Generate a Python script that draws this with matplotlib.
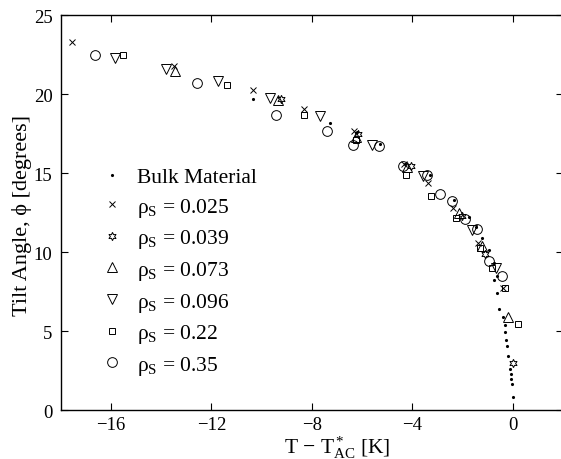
import matplotlib
matplotlib.use("Agg")
import matplotlib.pyplot as plt

plt.rcParams['font.family'] = ['Liberation Serif', 'DejaVu Serif']
plt.rcParams['mathtext.fontset'] = 'custom'
plt.rcParams['mathtext.rm'] = 'Liberation Serif'
plt.rcParams['mathtext.it'] = 'Liberation Serif:italic'

# bulk material (small dots)
bulk_x = [-10.36, -7.28, -6.2, -5.3, -4.3, -3.3, -2.35, -1.75, -1.45, -1.2, -0.95,
          -0.75, -0.72, -0.6, -0.6, -0.52, -0.36, -0.3, -0.28, -0.24, -0.2, -0.16,
          -0.12, -0.08, -0.06, -0.04, 0.0]
bulk_y = [19.7, 18.2, 17.6, 16.85, 15.6, 14.9, 13.3, 12.2, 11.6, 10.9, 10.1,
          9.3, 8.2, 8.5, 7.4, 6.4, 5.9, 5.4, 4.94, 4.43, 4.05, 3.42,
          2.6, 2.3, 1.96, 1.65, 0.82]

# rho_S = 0.025
x025 = [-17.56, -13.48, -10.36, -8.32, -6.32, -4.32, -3.36, -2.36, -1.36, -0.36]
y025 = [23.3, 21.8, 20.25, 19.05, 17.66, 15.6, 14.37, 12.8, 10.6, 7.75]

# rho_S = 0.039
x039 = [-9.24, -6.16, -4.04, -2.0, -1.08, 0.0]
y039 = [19.7, 17.5, 15.45, 12.3, 9.9, 2.97]

# rho_S = 0.073
x073 = [-13.44, -9.36, -6.24, -4.2, -2.12, -1.2, -0.16]
y073 = [21.45, 19.65, 17.3, 15.4, 12.5, 10.4, 5.9]

# rho_S = 0.096
x096 = [-15.84, -13.8, -11.76, -9.68, -7.68, -5.6, -3.56, -1.6, -0.64]
y096 = [22.3, 21.6, 20.8, 19.75, 18.6, 16.77, 14.8, 11.4, 9.0]

# rho_S = 0.22
x22 = [-15.52, -11.4, -8.32, -6.24, -4.24, -3.24, -2.24, -1.28, -0.8, -0.28, 0.2]
y22 = [22.47, 20.57, 18.67, 17.1, 14.87, 13.55, 12.15, 10.25, 9.0, 7.7, 5.45]

# rho_S = 0.35
x35 = [-16.64, -12.56, -9.44, -7.4, -6.36, -5.32, -4.36, -3.4, -2.88, -2.4, -1.9,
       -1.4, -0.92, -0.4]
y35 = [22.47, 20.7, 18.67, 17.66, 16.77, 16.7, 15.44, 14.87, 13.7, 13.2, 12.1,
       11.45, 9.43, 8.48]

xticks = [-16, -12, -8, -4, 0]
yticks = [0, 5, 10, 15, 20, 25]

fig = plt.figure(figsize=(5.61, 4.6), dpi=100)
ax = fig.add_axes([0.1087, 0.1065, 0.8943, 0.8585])

open_style = dict(linestyle='none', markerfacecolor='none', markeredgecolor='k',
                  markeredgewidth=0.7)
ax.plot(bulk_x, bulk_y, linestyle='none', marker='.', color='k', markersize=2.5,
        label='Bulk Material')
ax.plot(x025, y025, marker='x', markersize=4.5, label=r'ρ$_\mathrm{S}$ = 0.025', **open_style)
ax.plot(x039, y039, marker=(6, 1, 0), markersize=6, label=r'ρ$_\mathrm{S}$ = 0.039', **open_style)
ax.plot(x073, y073, marker='^', markersize=7, label=r'ρ$_\mathrm{S}$ = 0.073', **open_style)
ax.plot(x096, y096, marker='v', markersize=7, label=r'ρ$_\mathrm{S}$ = 0.096', **open_style)
ax.plot(x22, y22, marker='s', markersize=5, label=r'ρ$_\mathrm{S}$ = 0.22', **open_style)
ax.plot(x35, y35, marker='o', markersize=7, label=r'ρ$_\mathrm{S}$ = 0.35', **open_style)

ax.set_xlim(-18, 2)
ax.set_ylim(0, 25)
ax.set_xticks(xticks)
ax.set_xticklabels(['\u2212%d' % -t if t < 0 else str(t) for t in xticks])
ax.set_yticks(yticks)
ax.tick_params(direction='in', top=True, right=True, length=5, width=0.8,
               labelsize=13.5, pad=6)
ax.tick_params(axis='x', pad=4.5)
for s in ax.spines.values():
    s.set_linewidth(1.0)

ax.set_xlabel(r'T $-$ T$^*_\mathrm{AC}$ [K]', fontsize=15.5)
ax.xaxis.set_label_coords(0.55, -0.06)
ax.set_ylabel('Tilt Angle, \u03d5 [degrees]', fontsize=16)
ax.yaxis.set_label_coords(-0.058, 0.496)

ax.legend(loc='upper left', bbox_to_anchor=(0.064, 0.637), frameon=False,
          fontsize=15.5, handlelength=1.0, handletextpad=0.65, labelspacing=0.40,
          borderaxespad=0.0)

fig.savefig('out.png', dpi=100)
